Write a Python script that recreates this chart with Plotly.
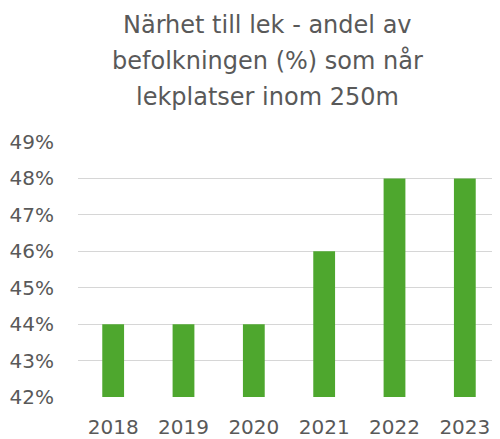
import plotly.graph_objects as go

years = ["2018", "2019", "2020", "2021", "2022", "2023"]
share = [44, 44, 44, 46, 48, 48]
y_ticks = [42, 43, 44, 45, 46, 47, 48, 49]
y_tick_labels = [f"{v}%" for v in y_ticks]
title_lines = ["Närhet till lek - andel av", "befolkningen (%) som når", "lekplatser inom 250m"]

FONT = "DejaVu Sans"
GREY = "#595959"

fig = go.Figure(go.Bar(x=years, y=share, marker=dict(color="#4EA72E", line=dict(width=0)),
                       width=0.31, base=0))

PLOT_H = 431 - 134 - 36
for i, line in enumerate(title_lines):
    fig.add_annotation(text=line, xref="paper", yref="paper", x=0.448, xanchor="center",
                       y=1 + (120 - 37 * i) / PLOT_H, yanchor="middle", showarrow=False,
                       font=dict(family=FONT, size=24, color=GREY))

fig.update_layout(
    width=492, height=431,
    margin=dict(l=70, r=0, t=134, b=36),
    paper_bgcolor="white", plot_bgcolor="white",
    showlegend=False,
    font=dict(family=FONT, color=GREY, size=20),
    xaxis=dict(showgrid=False, showline=False, ticks="", tickfont=dict(size=20, color=GREY),
               ticklabelstandoff=16),
    yaxis=dict(range=[42, 49], tickvals=y_ticks, ticktext=y_tick_labels,
               showgrid=True, gridcolor="#D6D6D6", gridwidth=1.2, zeroline=False,
               showline=False, ticks="", tickfont=dict(size=20, color=GREY),
               ticklabelstandoff=23),
)

fig.write_html("out.html")
